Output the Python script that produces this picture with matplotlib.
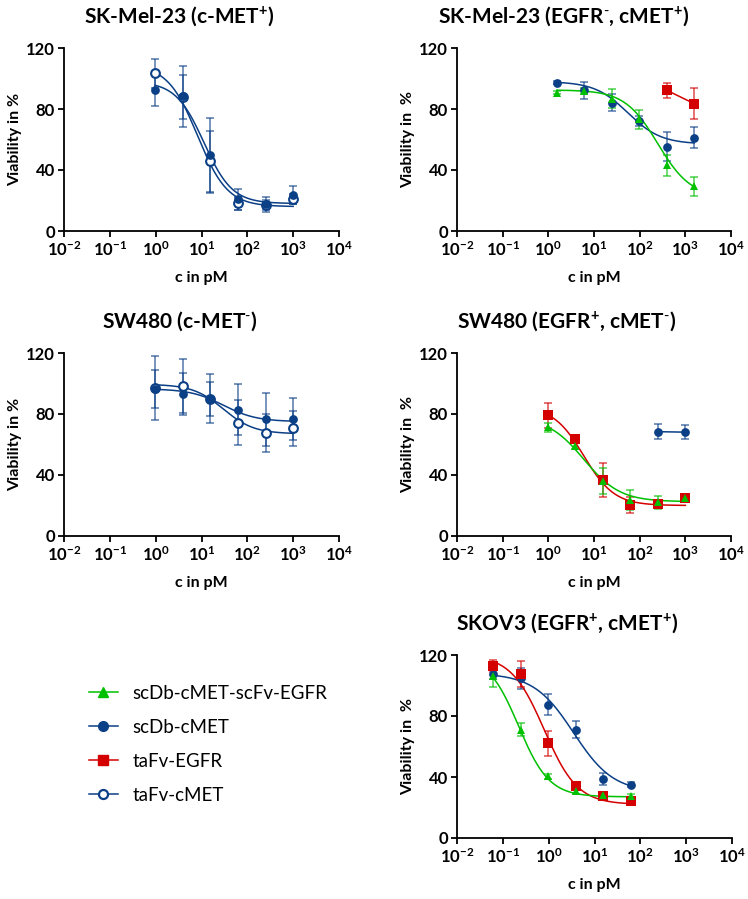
"""
Cell viability dose-response panels (5 cell lines) + shared legend.
Writes out.png.
"""
import numpy as np
import matplotlib
matplotlib.use("Agg")
import matplotlib.pyplot as plt
from matplotlib.lines import Line2D
from matplotlib.ticker import NullLocator

plt.rcParams.update({
    "font.family": ["Lato", "DejaVu Sans"],
    "mathtext.fontset": "custom",
    "mathtext.rm": "Lato",
    "mathtext.bf": "Lato:bold",
    "mathtext.it": "Lato:italic",
})

BLUE = "#0b3f86"; RED = "#d40000"; GREEN = "#00c000"

# ---- data (viability %, mean and error) ----
conc_a = [0.977, 3.91, 15.6, 62.5, 250, 1000]        # SK-Mel-23 c-MET, SW480 panels
conc_b = [1.53, 6.10, 24.4, 97.7, 391, 1563]         # SK-Mel-23 EGFR/cMET
conc_c = [0.061, 0.244, 0.977, 3.91, 15.6, 62.5]     # SKOV3

# panel 1: SK-Mel-23 (c-MET+)
mel_db_y   = [92.4, 88.5, 49.6, 20.7, 17.5, 23.5]
mel_db_err = [10.7, 20.0, 24.4, 7.0, 5.0, 6.0]
mel_ta_y   = [103.5, 88.0, 45.7, 18.1, 17.0, 21.0]
mel_ta_err = [9.5, 14.5, 19.8, 4.5, 3.5, 3.5]
mel_db_fit = (98, 18, 11.3, 1.41)     # top, bottom, IC50, hill
mel_ta_fit = (109, 16, 8.2, 1.33)

# panel 2: SK-Mel-23 (EGFR-, cMET+)
mel2_db_y    = [97.1, 92.3, 84.2, 72.1, 55.4, 61.1]
mel2_db_err  = [1.0, 5.5, 5.5, 3.0, 9.7, 7.0]
mel2_bs_y    = [90.8, 91.8, 86.8, 73.2, 43.1, 29.2]
mel2_bs_err  = [1.0, 2.0, 6.0, 6.0, 7.0, 6.0]
mel2_egfr_x  = [391, 1563]
mel2_egfr_y  = [92.3, 83.5]
mel2_egfr_err = [5.0, 10.3]
mel2_db_fit = (98, 57, 55, 1.2)
mel2_bs_fit = (92.5, 22, 250, 1.2)

# panel 3: SW480 (c-MET-)
sw_db_y   = [96.4, 93.1, 89.8, 82.8, 76.5, 76.5]
sw_db_err = [12.5, 14.0, 11.0, 16.7, 17.5, 13.8]
sw_ta_y   = [97.0, 98.4, 90.0, 74.3, 67.3, 70.6]
sw_ta_err = [21.0, 17.5, 16.0, 14.8, 12.5, 11.6]
sw_db_fit = (96.5, 75, 30, 1.2)
sw_ta_fit = (99.5, 67, 30, 1.3)

# panel 4: SW480 (EGFR+, cMET-)
sw2_egfr_y   = [79.1, 63.3, 36.9, 20.4, 20.9, 24.9]
sw2_egfr_err = [8.0, 2.0, 11.0, 5.0, 2.0, 2.0]
sw2_bs_y     = [71.4, 58.9, 35.8, 23.7, 22.0, 25.2]
sw2_bs_err   = [3.0, 2.0, 8.5, 6.6, 4.5, 2.0]
sw2_db_x     = [250, 1000]
sw2_db_y     = [68.4, 68.1]
sw2_db_err   = [5.0, 4.5]
sw2_egfr_fit = (85, 20, 6, 1.3)
sw2_bs_fit   = (78, 22.5, 6, 1.1)

# panel 5: SKOV3 (EGFR+, cMET+)
sk_db_y    = [107.4, 104.8, 87.4, 71.1, 38.9, 35.0]
sk_db_err  = [3.0, 7.0, 7.0, 5.7, 4.0, 1.5]
sk_egfr_y  = [112.9, 107.6, 62.0, 33.9, 27.6, 24.1]
sk_egfr_err = [4.0, 8.7, 8.0, 2.0, 1.5, 1.5]
sk_bs_y    = [106.3, 71.1, 40.4, 30.9, 28.0, 27.4]
sk_bs_err  = [7.6, 4.5, 1.5, 2.0, 1.5, 1.5]
sk_db_fit   = (108, 30, 3.5, 1.0)
sk_egfr_fit = (120, 22, 0.8, 1.2)
sk_bs_fit   = (120, 27, 0.22, 1.3)

LEG_LABELS = ["scDb-cMET-scFv-EGFR", "scDb-cMET", "taFv-EGFR", "taFv-cMET"]


def sig(x, p):
    top, bot, ic50, h = p
    return bot + (top - bot) / (1 + (x / ic50) ** h)


def series(ax, x, y, err, color, marker, fit=None, hollow=False, ms=6.3):
    x = np.asarray(x, float)
    ax.errorbar(x, y, yerr=err, fmt="none", ecolor=color, alpha=.7, elinewidth=1.1,
                capsize=3.2, capthick=1.1, zorder=2, clip_on=False)
    if fit is None:
        ax.plot(x, y, color=color, lw=1.1, zorder=3)
    else:
        xs = np.logspace(np.log10(x[0]), np.log10(x[-1]), 200)
        ax.plot(xs, sig(xs, fit), color=color, lw=1.1, zorder=3)
    ax.plot(x, y, ls="none", marker=marker, ms=ms, mfc="white" if hollow else color,
            mec=color, mew=1.5 if hollow else 0, zorder=4 if hollow else 5, clip_on=False)


def style(ax, title, tx, ylab):
    ax.set_xscale("log"); ax.set_xlim(1e-2, 1e4); ax.set_ylim(0, 120)
    dec = [-2, -1, 0, 1, 2, 3, 4]
    ax.set_xticks([10.0 ** d for d in dec])
    ax.set_xticklabels([r"$\mathbf{10^{%d}}$" % d for d in dec])
    ax.xaxis.set_minor_locator(NullLocator())
    ax.set_yticks([0, 40, 80, 120])
    ax.set_yticklabels(["0", "40", "80", "120"], fontweight="bold")
    ax.spines[["top", "right"]].set_visible(False)
    for s in ["left", "bottom"]:
        ax.spines[s].set_linewidth(1.3)
    ax.tick_params(direction="out", length=4.5, width=1.3, labelsize=12, pad=2)
    ax.set_xlabel("c in pM", fontweight="bold", fontsize=11.5, labelpad=9)
    ax.set_ylabel(ylab, fontweight="bold", fontsize=11.5, labelpad=3)
    ax.set_title(title, fontweight="bold", fontsize=15, x=tx, pad=18)


W, H = 748, 899
fig = plt.figure(figsize=(W / 100, H / 100), dpi=100)
def axes(l, top, w=275, h=183):
    return fig.add_axes([l / W, 1 - (top + h) / H, w / W, h / H])

# ---- panel 1 ----
ax = axes(64, 48)
series(ax, conc_a, mel_db_y, mel_db_err, BLUE, "o", mel_db_fit)
series(ax, conc_a, mel_ta_y, mel_ta_err, BLUE, "o", mel_ta_fit, hollow=True)
style(ax, r"SK-Mel-23 (c-MET$^{\mathbf{+}}$)", .42, "Viability in %")

# ---- panel 2 ----
ax = axes(457, 48, 274)
series(ax, conc_b, mel2_db_y, mel2_db_err, BLUE, "o", mel2_db_fit)
series(ax, conc_b, mel2_bs_y, mel2_bs_err, GREEN, "^", mel2_bs_fit)
series(ax, mel2_egfr_x, mel2_egfr_y, mel2_egfr_err, RED, "s", ms=6.5)
style(ax, r"SK-Mel-23 (EGFR$^{\text{-}}$, cMET$^{\mathbf{+}}$)", .39, "Viability in  %")

# ---- panel 3 ----
ax = axes(64, 353)
series(ax, conc_a, sw_db_y, sw_db_err, BLUE, "o", sw_db_fit)
series(ax, conc_a, sw_ta_y, sw_ta_err, BLUE, "o", sw_ta_fit, hollow=True)
style(ax, r"SW480 (c-MET$^{\text{-}}$)", .42, "Viability in %")

# ---- panel 4 ----
ax = axes(457, 353, 274)
series(ax, conc_a, sw2_egfr_y, sw2_egfr_err, RED, "s", sw2_egfr_fit, ms=6.5)
series(ax, conc_a, sw2_bs_y, sw2_bs_err, GREEN, "^", sw2_bs_fit)
series(ax, sw2_db_x, sw2_db_y, sw2_db_err, BLUE, "o")
style(ax, r"SW480 (EGFR$^{\mathbf{+}}$, cMET$^{\text{-}}$)", .40, "Viability in  %")

# ---- panel 5 ----
ax = axes(457, 655)
series(ax, conc_c, sk_db_y, sk_db_err, BLUE, "o", sk_db_fit)
series(ax, conc_c, sk_egfr_y, sk_egfr_err, RED, "s", sk_egfr_fit, ms=6.5)
series(ax, conc_c, sk_bs_y, sk_bs_err, GREEN, "^", sk_bs_fit)
style(ax, r"SKOV3 (EGFR$^{\mathbf{+}}$, cMET$^{\mathbf{+}}$)", .40, "Viability in  %")

# ---- legend ----
handles = [
    Line2D([], [], color=GREEN, marker="^", ms=7, lw=1.1),
    Line2D([], [], color=BLUE, marker="o", ms=7, lw=1.1),
    Line2D([], [], color=RED, marker="s", ms=7, lw=1.1),
    Line2D([], [], color=BLUE, marker="o", ms=6.5, mfc="white", mew=1.6, lw=1.1),
]
fig.legend(handles, LEG_LABELS, loc="center left", bbox_to_anchor=(0.097, 0.172),
           frameon=False, fontsize=13.5, handlelength=1.5, handletextpad=0.8,
           labelspacing=0.9)

fig.savefig("out.png", dpi=100)
